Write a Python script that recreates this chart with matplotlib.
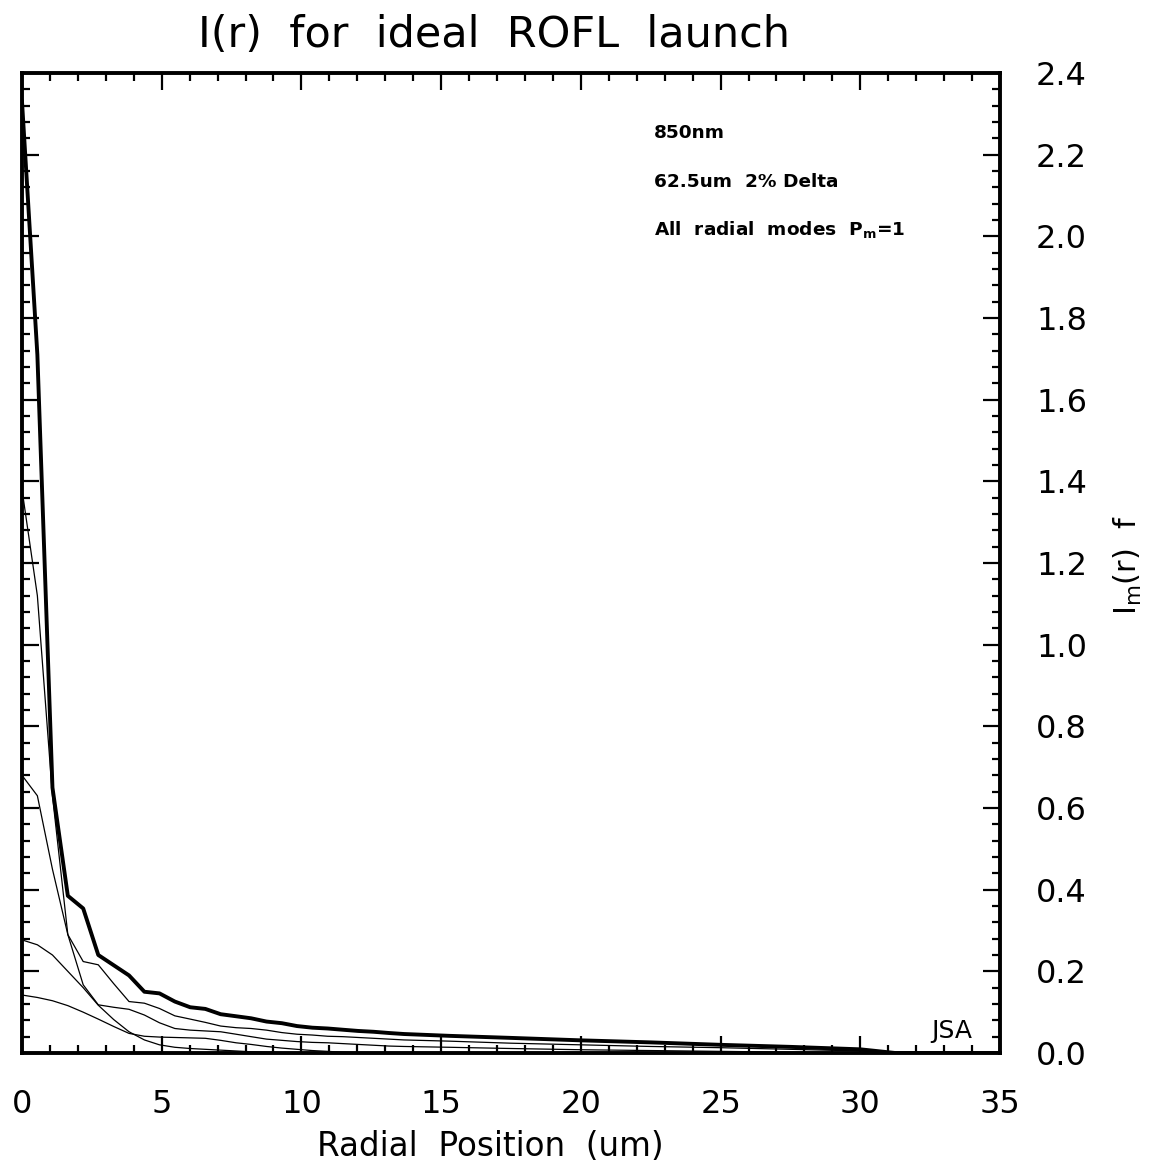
import numpy as np
import matplotlib
matplotlib.use("Agg")
import matplotlib.pyplot as plt
from matplotlib.ticker import MultipleLocator

# radial sample positions (um)
r = [0.0, 0.55, 1.09, 1.64, 2.19, 2.73, 3.28, 3.83, 4.38, 4.92, 5.47, 6.02,
     6.56, 7.11, 7.66, 8.2, 8.75, 9.3, 9.84, 10.39, 10.94, 11.48, 12.03,
     12.58, 13.13, 13.67, 15.3, 17.5, 20.0, 22.5, 25.0, 27.5, 30.0, 31.25, 35.0]

# total intensity (thick line)
total = [2.33, 1.71, 0.65, 0.385, 0.354, 0.24, 0.215, 0.19, 0.150, 0.146, 0.126,
         0.112, 0.108, 0.095, 0.090, 0.085, 0.077, 0.073, 0.066, 0.062, 0.060,
         0.057, 0.054, 0.052, 0.049, 0.0465, 0.042, 0.037, 0.031, 0.026, 0.020,
         0.015, 0.009, 0.0, 0.0]

# individual radial modes (thin lines)
mode1 = [1.38, 1.12, 0.63, 0.29, 0.167, 0.118, 0.112, 0.107, 0.093, 0.074, 0.060,
         0.056, 0.054, 0.052, 0.046, 0.040, 0.034, 0.031, 0.028, 0.026, 0.025,
         0.023, 0.021, 0.019, 0.017, 0.016, 0.014, 0.011, 0.008, 0.006, 0.004,
         0.002, 0.001, 0.0, 0.0]
mode2 = [0.68, 0.63, 0.45, 0.29, 0.224, 0.216, 0.17, 0.126, 0.122, 0.109, 0.091,
         0.083, 0.075, 0.066, 0.062, 0.060, 0.056, 0.050, 0.046, 0.044, 0.041,
         0.040, 0.038, 0.036, 0.034, 0.032, 0.029, 0.024, 0.020, 0.016, 0.013,
         0.009, 0.005, 0.0, 0.0]
mode3 = [0.277, 0.265, 0.24, 0.20, 0.16, 0.117, 0.082, 0.052, 0.032, 0.020, 0.014,
         0.011, 0.009, 0.007, 0.005, 0.003, 0.002, 0.001, 0.0, 0.0, 0.0,
         0.0, 0.0, 0.0, 0.0, 0.0, 0.0, 0.0, 0.0, 0.0, 0.0,
         0.0, 0.0, 0.0, 0.0]
mode4 = [0.142, 0.136, 0.128, 0.116, 0.10, 0.083, 0.065, 0.048, 0.041, 0.039, 0.038,
         0.037, 0.036, 0.031, 0.025, 0.021, 0.016, 0.012, 0.009, 0.006, 0.004,
         0.002, 0.001, 0.0, 0.0, 0.0, 0.0, 0.0, 0.0, 0.0, 0.0,
         0.0, 0.0, 0.0, 0.0]

fig = plt.figure(figsize=(11.49, 11.73), dpi=100)
ax = fig.add_axes([22 / 1149, 1 - 1053 / 1173, 978 / 1149, 980 / 1173])

for m in (mode1, mode2, mode3, mode4):
    ax.plot(r, m, color="black", lw=0.9)
ax.plot(r, total, color="black", lw=2.8)

ax.set_xlim(0, 35)
ax.set_ylim(0, 2.4)

# ticks: inward on all sides, labels on the right and bottom
ax.xaxis.set_major_locator(MultipleLocator(5))
ax.xaxis.set_minor_locator(MultipleLocator(1))
ax.yaxis.set_major_locator(MultipleLocator(0.2))
ax.yaxis.set_minor_locator(MultipleLocator(0.04))
ax.yaxis.set_major_formatter(matplotlib.ticker.FormatStrFormatter("%.1f"))
ax.tick_params(which="both", direction="in", left=True, right=True,
               top=True, bottom=True, labelleft=False, labelright=True)
ax.tick_params(which="major", length=12, width=1.6, labelsize=23, pad=26)
ax.tick_params(which="minor", length=6, width=1.6)
for s in ax.spines.values():
    s.set_linewidth(2.8)

ax.text(22.6, 2.253, "850nm", fontsize=13.3, fontweight="bold", va="center")
ax.text(22.6, 2.133, "62.5um  2% Delta", fontsize=13.3, fontweight="bold", va="center")
ax.text(22.6, 2.016, "All  radial  modes  P$_\\mathbf{m}$=1", fontsize=13.3,
        fontweight="bold", va="center")
ax.text(34.0, 0.025, "JSA", fontsize=18, ha="right", va="bottom")

fig.text(494 / 1149, 1 - 35 / 1173, "I(r)  for  ideal  ROFL  launch", fontsize=31,
         ha="center", va="center")
fig.text(490 / 1149, 1 - 1147 / 1173, "Radial  Position  (um)", fontsize=23.5,
         ha="center", va="center")
fig.text(1128 / 1149, 1 - 565 / 1173, "I$_\\mathrm{m}$(r)  f", fontsize=22,
         rotation=90, ha="center", va="center")

fig.savefig("out.png", dpi=100)
